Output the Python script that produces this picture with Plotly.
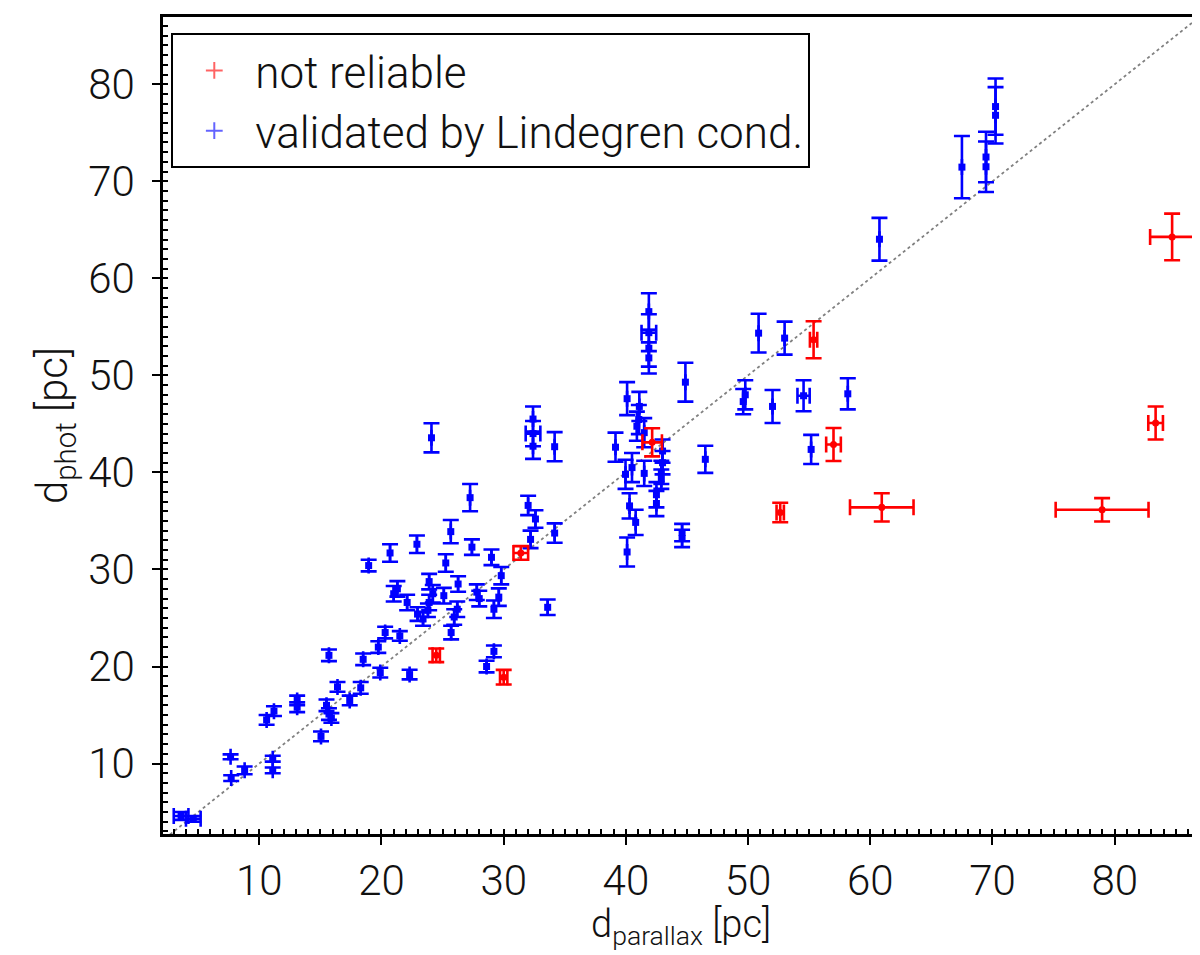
import plotly.graph_objects as go

# ---- data: validated (blue) ----
blue_x = [3.6, 4.6, 7.65, 7.7, 8.8, 10.6, 11.2, 11.1, 11.1, 13.1, 13.1, 15.05, 15.7, 15.5, 15.7, 15.9,
          16.4, 17.4, 18.3, 18.5, 18.95, 19.74, 19.9, 20.3, 20.7, 21.0, 21.3, 21.5, 22.1, 22.3, 22.9,
          22.95, 23.4, 23.8, 23.9, 23.9, 24.09, 24.2, 25.1, 25.26, 25.67, 25.7, 25.95, 26.2, 26.27,
          27.25, 27.4, 27.8, 28.0, 28.6, 29.0, 29.2, 29.2, 29.6, 29.8, 32.0, 32.2, 32.4, 32.4, 32.4,
          32.6, 33.6, 34.17, 34.17, 39.15, 39.97, 40.1, 40.1, 40.3, 40.5, 40.8, 40.9, 41.06, 41.1,
          41.5, 41.5, 41.88, 41.88, 41.88, 41.88, 43.0, 43.0, 42.9, 42.9, 42.5, 42.5, 44.6, 44.6,
          44.87, 46.5, 49.77, 49.6, 50.86, 52.0, 52.99, 54.54, 55.16, 58.16, 60.75, 67.5, 69.47,
          69.47, 70.25, 70.25]
blue_y = [4.6, 4.3, 10.7, 8.5, 9.3, 14.5, 15.4, 10.5, 9.3, 16.5, 15.8, 12.8, 21.15, 16.0, 15.1, 14.7,
          17.9, 16.5, 17.8, 20.74, 30.4, 22.0, 19.37, 23.5, 31.7, 27.5, 28.0, 23.15, 26.6, 19.17, 32.6,
          25.4, 24.9, 25.8, 26.6, 28.75, 43.57, 27.5, 27.3, 30.67, 33.9, 23.5, 25.1, 25.9, 28.5,
          37.4, 32.3, 27.66, 27.0, 20.0, 31.25, 25.9, 21.56, 27.15, 29.36, 36.6, 33.1, 45.5, 44.0, 42.7,
          35.2, 26.1, 42.65, 33.75, 42.6, 39.8, 47.6, 31.8, 36.55, 40.5, 34.85, 44.76, 45.45, 46.8,
          44.1, 39.9, 56.57, 54.4, 52.8, 51.8, 42.2, 41.0, 40.0, 39.3, 37.7, 36.8, 33.8, 33.2,
          49.3, 41.35, 48.0, 47.3, 54.35, 46.8, 53.84, 47.9, 42.37, 48.1, 64.03, 71.46, 72.5,
          71.5, 77.7, 76.8]
blue_yerr = [0.4, 0.3, 0.25, 0.3, 0.4, 0.5, 0.5, 0.3, 0.3, 0.5, 0.5, 0.5, 0.6, 0.6, 0.6, 0.5,
             0.5, 0.5, 0.6, 0.6, 0.6, 0.6, 0.5, 0.6, 0.9, 0.8, 0.8, 0.5, 0.8, 0.5, 0.9,
             0.7, 0.7, 0.7, 0.8, 0.8, 1.5, 0.9, 0.8, 0.9, 1.2, 0.7, 0.8, 0.8, 0.8,
             1.4, 0.8, 0.8, 0.8, 0.6, 0.8, 0.9, 0.6, 0.9, 0.9, 1.0, 0.9, 1.3, 1.3, 1.3,
             0.9, 0.8, 1.5, 1.0, 1.5, 1.5, 1.7, 1.5, 1.3, 1.5, 1.3, 1.5, 1.5, 1.5,
             1.5, 1.3, 1.9, 1.9, 1.9, 1.6, 1.2, 1.2, 1.2, 1.0, 1.3, 1.3, 0.9, 0.9,
             2.0, 1.4, 1.5, 1.3, 2.0, 1.7, 1.7, 1.6, 1.5, 1.6, 2.2, 3.2, 2.6,
             2.6, 2.9, 2.9]
blue_xerr = [0.6, 0.6, 0, 0, 0, 0, 0, 0, 0, 0, 0, 0, 0, 0, 0, 0,
             0, 0, 0, 0, 0, 0, 0, 0, 0, 0, 0, 0, 0, 0, 0,
             0, 0, 0, 0, 0, 0, 0, 0, 0, 0, 0, 0, 0, 0,
             0, 0, 0, 0, 0, 0, 0, 0, 0, 0, 0, 0, 0, 0.6, 0,
             0, 0, 0, 0, 0, 0, 0, 0, 0, 0, 0, 0, 0, 0,
             0, 0, 0, 0.6, 0, 0, 0, 0, 0, 0, 0, 0, 0, 0,
             0, 0, 0, 0, 0, 0, 0, 0.5, 0, 0, 0, 0, 0,
             0, 0, 0]

# ---- data: not reliable (red) ----
red_x = [24.48, 30.0, 31.4, 42.15, 52.63, 55.36, 56.99, 60.94, 78.97, 83.35, 84.7]
red_y = [21.15, 18.9, 31.7, 43.1, 35.87, 53.67, 42.88, 36.4, 36.15, 45.1, 64.27]
red_yerr = [0.7, 0.75, 0.7, 1.45, 1.0, 1.9, 1.7, 1.45, 1.2, 1.7, 2.4]
red_xerr = [0.3, 0.3, 0.6, 0.8, 0.3, 0.3, 0.6, 2.6, 3.8, 0.6, 1.8]

# one-to-one reference line
diag = [0, 100]

x_ticks = [10, 20, 30, 40, 50, 60, 70, 80]
y_ticks = [10, 20, 30, 40, 50, 60, 70, 80]

x_title = "d<sub>parallax</sub> [pc]"
y_title = "d<sub>phot</sub> [pc]"

FONT = "Roboto, sans-serif"
BLUE = "#0000ff"
RED = "#ff0000"
TXT = "#111111"

fig = go.Figure()

fig.add_trace(go.Scatter(
    x=diag, y=diag, mode="lines", showlegend=False, hoverinfo="skip",
    line=dict(color="#808080", width=1.8, dash="dot")))

fig.add_trace(go.Scatter(
    x=blue_x, y=blue_y, mode="markers", name="validated by Lindegren cond.",
    showlegend=False,
    marker=dict(symbol="square", size=7, color=BLUE),
    error_y=dict(type="data", array=blue_yerr, color=BLUE, thickness=2.6, width=8),
    error_x=dict(type="data", array=blue_xerr, color=BLUE, thickness=2.6, width=8)))

fig.add_trace(go.Scatter(
    x=red_x, y=red_y, mode="markers", name="not reliable",
    showlegend=False,
    marker=dict(symbol="circle", size=7, color=RED),
    error_y=dict(type="data", array=red_yerr, color=RED, thickness=2.6, width=8),
    error_x=dict(type="data", array=red_xerr, color=RED, thickness=2.6, width=8)))

# legend entries (error-bar cross icons)
fig.add_trace(go.Scatter(
    x=[None], y=[None], mode="markers", name="not reliable", legendrank=1,
    marker=dict(symbol="cross-thin", size=17, color="rgba(255,60,60,0.8)",
                line=dict(width=3.5, color="rgba(255,60,60,0.8)"))))
fig.add_trace(go.Scatter(
    x=[None], y=[None], mode="markers", name="validated by Lindegren cond.", legendrank=2,
    marker=dict(symbol="cross-thin", size=17, color="rgba(60,60,255,0.8)",
                line=dict(width=3.5, color="rgba(60,60,255,0.8)"))))

axis_common = dict(
    showgrid=False, zeroline=False, showline=True, linecolor="black", linewidth=2.5,
    mirror=True, ticks="outside", ticklen=8, tickwidth=2, tickcolor="black",
    tickfont=dict(family=FONT, size=42, color=TXT, weight=300),
    minor=dict(ticks="inside", ticklen=5, tickwidth=1.5, tickcolor="black", dtick=1),
)

fig.update_xaxes(range=[2.12, 86.9], tickvals=x_ticks, **axis_common)
fig.update_yaxes(range=[2.74, 86.93], tickvals=y_ticks, ticklabelstandoff=9, **axis_common,
                 title=dict(text=y_title, standoff=8,
                            font=dict(family=FONT, size=42, color=TXT, weight=300)))

fig.add_annotation(
    text=x_title, xref="paper", yref="paper", x=0.5, y=-0.146,
    xanchor="center", yanchor="bottom", showarrow=False,
    font=dict(family=FONT, size=38, color=TXT, weight=300))

fig.update_layout(
    width=1200, height=955,
    margin=dict(l=155, r=7, t=6, b=129),
    paper_bgcolor="white", plot_bgcolor="white",
    legend=dict(x=0.008, y=0.98, xanchor="left", yanchor="top",
                bgcolor="white", bordercolor="black", borderwidth=2,
                font=dict(family=FONT, size=44, color=TXT, weight=300),
                itemsizing="constant", itemwidth=72, tracegroupgap=0),
    showlegend=True,
)

fig.write_html("out.html")
